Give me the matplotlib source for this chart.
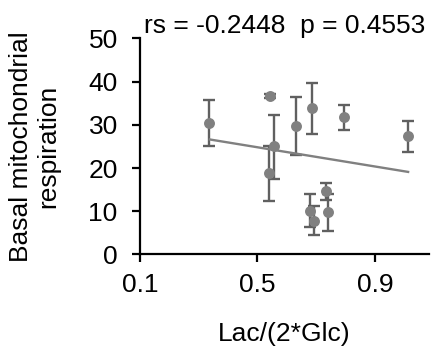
import numpy as np
import matplotlib
matplotlib.use("Agg")
import matplotlib.pyplot as plt

plt.rcParams['font.family'] = ['Liberation Sans', 'DejaVu Sans']

x = [0.334, 0.544, 0.558, 0.539, 0.631, 0.687, 0.796, 1.013, 0.679, 0.691, 0.732, 0.740]
y = [30.4, 36.7, 25.0, 18.8, 29.7, 33.8, 31.8, 27.3, 10.0, 7.7, 14.8, 9.8]
err_hi = [35.7, 37.2, 32.3, 25.2, 36.5, 39.7, 34.6, 30.9, 13.9, 11.3, 16.6, 14.0]
err_lo = [25.1, 36.2, 17.5, 12.3, 22.9, 27.9, 28.9, 23.7, 6.3, 4.4, 12.7, 5.5]
trend_x = [0.338, 1.013]
trend_y = [26.6, 19.1]
title = "rs = -0.2448  p = 0.4553"
xticks = [0.1, 0.5, 0.9]
yticks = [0, 10, 20, 30, 40, 50]

fig = plt.figure(figsize=(4.32, 3.47), dpi=100)
ax = fig.add_axes([0.324, 0.2666, 0.669, 0.623])

yerr = [np.array(y) - np.array(err_lo), np.array(err_hi) - np.array(y)]
ax.errorbar(x, y, yerr=yerr, fmt='none', ecolor='#606060', elinewidth=1.7,
            capsize=4.5, capthick=1.7, zorder=2)
ax.plot(trend_x, trend_y, color='#808080', lw=1.7, zorder=3)
ax.scatter(x, y, s=62, color='#808080', zorder=4, linewidths=0)

ax.set_xlim(0.1, 1.084)
ax.set_ylim(0, 50)
ax.set_xticks(xticks)
ax.set_xticklabels([str(t) for t in xticks])
ax.set_yticks(yticks)
for s in ['top', 'right']:
    ax.spines[s].set_visible(False)
for s in ['left', 'bottom']:
    ax.spines[s].set_linewidth(1.6)
    ax.spines[s].set_color('black')
ax.tick_params(axis='both', width=1.6, length=6, labelsize=19, colors='black')
ax.tick_params(axis='x', pad=7)
ax.tick_params(axis='y', pad=10)

ax.set_xlabel("Lac/(2*Glc)", fontsize=19, labelpad=18)
ax.set_ylabel("Basal mitochondrial\nrespiration", fontsize=19, labelpad=20, linespacing=1.2)
ax.set_title(title, fontsize=19, pad=3)

fig.savefig("out.png", dpi=100)
